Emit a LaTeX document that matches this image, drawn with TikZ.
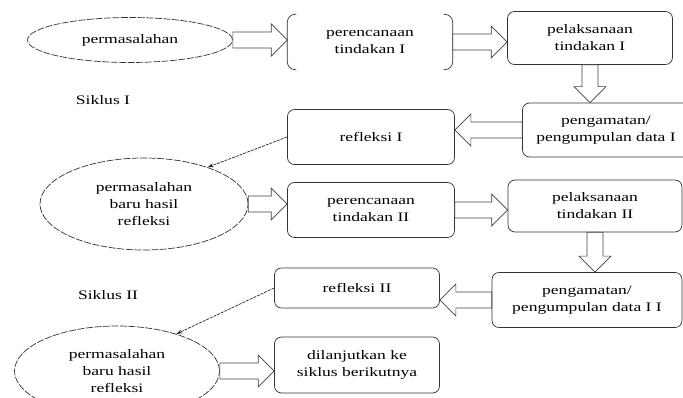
\documentclass[tikz,border=0pt]{standalone}
\usepackage{fontspec}
\setmainfont{Liberation Serif}[FakeStretch=1.35]
\usetikzlibrary{shapes.geometric,calc,arrows.meta}

% block arrow between two points
\newcommand\fatarrow[2]{%
  \path (#1) coordinate (fa-s) (#2) coordinate (fa-e) ($(fa-e)!16pt!(fa-s)$) coordinate (fa-h);
  \draw[fat] ($(fa-s)!8pt!90:(fa-e)$) -- ($(fa-h)!8pt!-90:(fa-s)$) -- ($(fa-h)!16pt!-90:(fa-s)$)
    -- (fa-e) -- ($(fa-h)!16pt!90:(fa-s)$) -- ($(fa-h)!8pt!90:(fa-s)$) -- ($(fa-s)!8pt!-90:(fa-e)$) -- cycle;
}

\begin{document}
\begin{tikzpicture}[x=1pt,y=-1pt,
  every node/.style={font=\fontsize{13}{17}\selectfont,align=center},
  box/.style={draw=black!80,line width=0.7pt,rounded corners=7pt,inner sep=2pt},
  blob/.style={draw=black!80,line width=0.7pt,ellipse,dash pattern=on 7pt off 1.5pt,inner sep=0pt},
  fat/.style={draw=black!75,line width=0.7pt,fill=white},
  back/.style={draw=black!85,line width=0.7pt,dash pattern=on 3pt off 1pt,-{Stealth[length=6pt,width=4pt]}}]
  \useasboundingbox (0,0) rectangle (683,398);

  % Siklus I
  \node[blob,minimum width=205,minimum height=45] (perm1) at (130,40) {permasalahan};
  \node[minimum width=165,minimum height=55] (plan1) at (370,42) {perencanaan\\tindakan I};
  \draw[draw=black!80,line width=0.7pt,rounded corners=8pt]
    ([xshift=9pt]plan1.north west) -- (plan1.north west) -- (plan1.south west) -- ([xshift=9pt]plan1.south west);
  \draw[draw=black!80,line width=0.7pt,rounded corners=8pt]
    ([xshift=-9pt]plan1.north east) -- (plan1.north east) -- (plan1.south east) -- ([xshift=-9pt]plan1.south east);
  \node[box,minimum width=165,minimum height=53] (act1) at (590,38) {pelaksanaan\\tindakan I};
  \node[box,minimum width=167,minimum height=54] (obs1) at (606,130) {pengamatan/\\pengumpulan data I};
  \node[box,minimum width=167,minimum height=55] (refl1) at (371,137) {refleksi I};
  \node (sik1) at (103,100) {Siklus I};

  % Siklus II
  \node[blob,minimum width=208,minimum height=92] (prob2) at (144,204) {permasalahan\\baru hasil\\refleksi};
  \node[box,minimum width=167,minimum height=55] (plan2) at (371,210) {perencanaan\\tindakan II};
  \node[box,minimum width=174,minimum height=52] (act2) at (595,206) {pelaksanaan\\tindakan II};
  \node[box,minimum width=190,minimum height=55] (obs2) at (587,300) {pengamatan/\\pengumpulan data I I};
  \node[box,minimum width=165,minimum height=40] (refl2) at (357,288) {refleksi II};
  \node (sik2) at (108,295) {Siklus II};
  \node[blob,minimum width=205,minimum height=90] (prob3) at (117,371) {permasalahan\\baru hasil\\refleksi};
  \node[box,minimum width=165,minimum height=56] (next) at (357,365) {dilanjutkan ke\\siklus berikutnya};

  \fatarrow{perm1.east}{perm1.east -| plan1.west}
  \fatarrow{plan1.east}{plan1.east -| act1.west}
  \fatarrow{act1.south}{act1.south |- obs1.north}
  \fatarrow{obs1.west}{obs1.west -| refl1.east}
  \fatarrow{prob2.east}{prob2.east -| plan2.west}
  \fatarrow{plan2.east}{plan2.east -| act2.west}
  \fatarrow{act2.south}{act2.south |- obs2.north}
  \fatarrow{obs2.west}{obs2.west -| refl2.east}
  \fatarrow{prob3.east}{prob3.east -| next.west}

  \draw[back] (refl1.west) -- (prob2.30);
  \draw[back] (refl2.west) -- (prob3.32);
\end{tikzpicture}
\end{document}
